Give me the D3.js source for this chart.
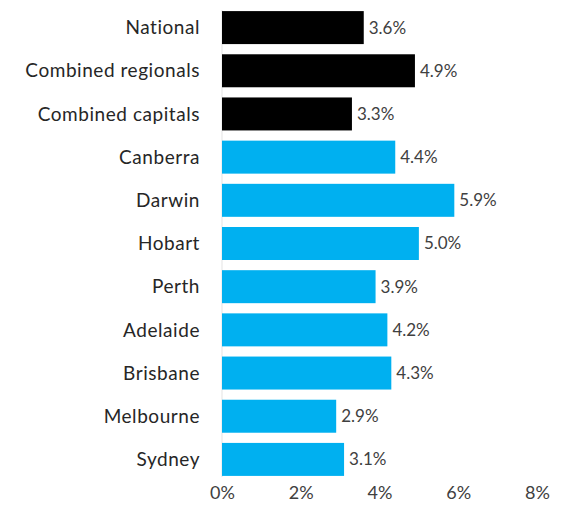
<!DOCTYPE html>
<html><head><meta charset="utf-8">
<script src="https://cdn.jsdelivr.net/npm/d3@7"></script>
<style>body{margin:0;background:#fff;} text{font-family:Lato, "Open Sans", sans-serif;}</style>
</head><body>
<svg id="c" width="561" height="520"></svg>
<script>
const categories = ["National","Combined regionals","Combined capitals","Canberra","Darwin","Hobart","Perth","Adelaide","Brisbane","Melbourne","Sydney"];
const values = [3.6,4.9,3.3,4.4,5.9,5.0,3.9,4.2,4.3,2.9,3.1];
const groups = ["aggregate","aggregate","aggregate","city","city","city","city","city","city","city","city"];
const xTicks = [0,2,4,6,8];
const colors = {aggregate:"#000000", city:"#00b0f0"};

const svg = d3.select("#c");
const x = d3.scaleLinear().domain([0,8]).range([222,537]);
const y = d3.scaleBand().domain(categories).range([6,481]).paddingInner(0.236).paddingOuter(0.118);
const data = categories.map((c,i)=>({c, v:values[i], g:groups[i]}));

svg.append("line").attr("x1",x(0)).attr("x2",x(0)).attr("y1",y.range()[0]+4).attr("y2",y.range()[1]-4)
  .attr("stroke","#e3e3e3").attr("stroke-width",1);

svg.selectAll("rect.bar").data(data).join("rect").attr("class","bar")
  .attr("x",x(0)).attr("y",d=>y(d.c)).attr("width",d=>x(d.v)-x(0)).attr("height",y.bandwidth())
  .attr("fill",d=>colors[d.g]);

svg.selectAll("text.val").data(data).join("text").attr("class","val")
  .attr("x",d=>x(d.v)+5).attr("y",d=>y(d.c)+y.bandwidth()/2).attr("dy","0.35em")
  .attr("font-size",17).attr("fill","#404040").text(d=>d.v.toFixed(1)+"%");

svg.selectAll("text.cat").data(data).join("text").attr("class","cat")
  .attr("x",200).attr("y",d=>y(d.c)+y.bandwidth()/2).attr("dy","0.35em").attr("text-anchor","end")
  .attr("font-size",19).attr("letter-spacing","0.55px").attr("fill","#262626").text(d=>d.c);

const ax = d3.axisBottom(x).tickValues(xTicks).tickFormat(d=>d+"%").tickSize(0).tickPadding(0);
const g = svg.append("g").attr("transform","translate(0,485)").call(ax);
g.select(".domain").remove();
g.selectAll("text").attr("font-size",18).attr("fill","#404040").attr("font-family","Lato, sans-serif").attr("dy","0.35em").attr("y",8);
</script>
</body></html>
